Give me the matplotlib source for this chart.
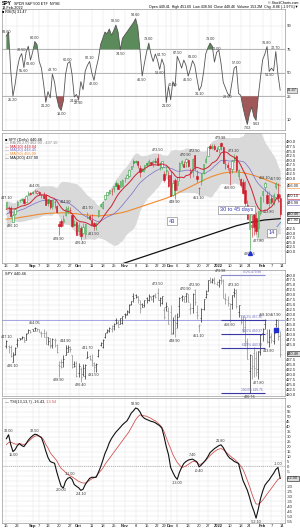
import numpy as np
import pandas as pd
import matplotlib
matplotlib.use('Agg')
import matplotlib.pyplot as plt

FIRST_DAY = '2021-08-16'
LAST_DAY = '2022-02-14'  # the axis runs one session past the last bar
HOLIDAYS = ['2021-09-06', '2021-11-25', '2021-12-24', '2022-01-17']

# Daily SPY prices, 16-Aug-2021 .. 11-Feb-2022
opens = [444.5, 444.2, 443.9, 436.3, 440.2, 445.2, 448.2, 448.2, 448.6, 447.1,
         450.9, 452.1, 452.6, 453.3, 451.9, 452.7, 450.9, 450.7, 451.0, 448.6,
         448.1, 444.6, 447.3, 444.9, 434.9, 436.5, 436.1, 439.9, 441.4, 442.8,
         439.7, 435.2, 436.0, 430.9, 433.0, 430.2, 429.3, 438.4, 439.5, 437.2,
         435.7, 434.7, 439.1, 444.8, 444.0, 448.9, 451.1, 451.8, 453.1, 454.3,
         457.2, 456.5, 455.5, 455.9, 460.3, 460.2, 461.3, 465.4, 469.3, 469.7,
         469.3, 465.6, 465.2, 465.1, 468.6, 467.2, 469.0, 469.2, 469.6, 470.9,
         467.2, 466.1, 462.3, 464.1, 462.0, 461.6, 450.7, 459.2, 456.1, 464.4,
         468.7, 468.1, 469.2, 470.2, 463.1, 463.4, 472.6, 461.5, 454.5, 458.6,
         462.8, 468.8, 472.1, 477.7, 476.4, 477.9, 475.6, 476.3, 479.2, 477.2,
         467.9, 467.3, 462.7, 465.2, 471.6, 472.2, 461.2, 459.7, 458.1, 453.8,
         445.6, 432.0, 433.1, 440.7, 438.3, 432.7, 441.2, 450.7, 455.5, 450.95,
         446.3, 449.5, 446.7, 455.2, 451.3, 449.4]
highs = [447.1, 444.9, 444.6, 441.1, 443.7, 448.2, 448.5, 449.5, 448.9, 450.7,
         453.1, 452.5, 453.1, 454.05, 453.6, 452.8, 451.7, 452.6, 451.6, 448.9,
         448.3, 448.4, 448.4, 445.4, 436.6, 437.9, 440.0, 444.9, 444.7, 444.1,
         440.0, 437.0, 436.8, 436.0, 433.9, 435.5, 435.1, 441.7, 439.9, 440.3,
         436.1, 436.0, 442.7, 446.3, 447.6, 450.7, 452.7, 453.8, 454.7, 455.9,
         458.5, 457.2, 458.4, 459.6, 460.7, 462.2, 465.2, 467.0, 470.7, 470.2,
         469.6, 467.4, 465.9, 467.4, 468.8, 470.5, 469.2, 470.0, 470.9, 473.5,
         469.1, 469.6, 463.9, 466.6, 464.0, 464.7, 459.1, 460.3, 460.8, 468.9,
         470.0, 469.6, 470.9, 470.6, 465.7, 470.9, 472.9, 464.7, 455.4, 463.2,
         467.8, 472.2, 477.3, 478.8, 478.6, 479.0, 477.0, 477.9, 479.98, 477.9,
         470.8, 469.2, 465.7, 469.9, 473.2, 472.9, 465.1, 460.0, 459.6, 458.7,
         448.1, 440.4, 439.7, 444.0, 441.6, 442.0, 450.3, 453.6, 458.1, 452.97,
         452.8, 451.0, 451.9, 457.9, 457.7, 451.6]
lows = [443.2, 440.9, 438.9, 436.1, 439.7, 443.7, 447.2, 447.8, 446.2, 447.1,
        450.7, 450.9, 451.6, 451.9, 451.6, 451.1, 449.0, 448.7, 445.3, 444.9,
        443.2, 443.4, 444.0, 441.0, 428.9, 433.1, 433.8, 439.6, 441.2, 441.2,
        433.3, 433.9, 428.8, 428.8, 426.4, 429.4, 427.5, 438.2, 437.2, 434.4,
        431.5, 431.5, 438.6, 444.1, 443.3, 448.3, 451.0, 451.3, 451.1, 452.4,
        455.6, 453.9, 455.5, 455.6, 458.2, 460.1, 460.8, 465.0, 466.4, 468.2,
        465.7, 460.7, 463.8, 463.7, 466.1, 467.1, 467.5, 466.2, 468.5, 467.4,
        464.5, 465.2, 457.8, 461.7, 455.3, 450.3, 450.3, 448.9, 453.6, 458.7,
        466.8, 466.2, 466.5, 466.3, 460.2, 460.7, 464.8, 458.1, 451.1, 456.3,
        462.6, 468.6, 472.0, 476.1, 475.9, 475.7, 474.8, 473.9, 475.6, 468.3,
        465.4, 464.6, 456.6, 462.9, 468.9, 463.4, 459.0, 455.3, 451.3, 444.5,
        437.95, 420.76, 427.7, 428.9, 429.4, 427.8, 439.8, 446.9, 453.0, 445.7,
        443.8, 445.9, 445.2, 454.0, 447.2, 438.9]
closes = [446.97, 444.04, 439.18, 439.86, 443.36, 447.26, 447.97, 448.91, 446.26, 450.25,
          452.23, 451.56, 451.80, 453.19, 453.08, 451.46, 450.91, 448.98, 445.44, 446.58,
          444.17, 447.88, 447.17, 441.40, 434.04, 433.63, 437.86, 443.18, 443.91, 442.64,
          433.72, 434.45, 429.14, 434.24, 428.64, 433.10, 434.90, 438.66, 437.86, 434.69,
          433.62, 435.18, 442.50, 445.87, 447.19, 450.64, 452.41, 453.59, 453.12, 455.55,
          455.96, 453.94, 458.32, 459.25, 460.04, 461.90, 464.72, 466.91, 468.53, 468.93,
          467.38, 463.62, 463.77, 467.27, 467.43, 469.28, 468.14, 469.73, 468.89, 467.57,
          468.19, 469.44, 458.97, 464.60, 455.56, 450.50, 457.40, 453.42, 458.79, 468.28,
          469.52, 466.35, 470.74, 466.57, 463.36, 470.60, 466.45, 459.87, 454.98, 463.06,
          467.69, 470.60, 477.26, 476.87, 477.48, 476.16, 474.96, 477.71, 477.55, 468.38,
          467.94, 466.09, 465.51, 469.75, 471.02, 464.53, 464.72, 456.49, 451.75, 446.75,
          437.98, 439.84, 434.47, 433.38, 431.24, 441.95, 449.91, 452.95, 457.35, 446.60,
          448.70, 447.26, 450.94, 457.54, 449.32, 440.46]
# closes of the 20 sessions before the window, for the short averages and bands
warmup_closes = [424.97, 431.06, 434.55, 435.46, 439.94, 441.02, 439.01, 438.83, 440.65, 438.51,
                 437.59, 441.15, 438.98, 441.76, 442.49, 442.13, 442.68, 443.78, 445.11, 445.92]

ma50 = [437.6, 437.8, 437.9, 438.0, 438.1, 438.3, 438.5, 438.7, 438.9, 439.1,
        439.3, 439.5, 439.7, 439.9, 440.1, 440.3, 440.4, 440.6, 440.7, 440.8,
        440.9, 440.9, 441.0, 441.0, 441.0, 441.1, 441.1, 441.1, 441.0, 440.9,
        440.8, 440.7, 440.6, 440.4, 440.3, 440.1, 440.0, 439.9, 439.8, 439.7,
        439.6, 439.5, 439.5, 439.5, 439.6, 439.7, 439.8, 440.0, 440.2, 440.4,
        440.6, 440.8, 441.0, 441.3, 441.6, 441.9, 442.3, 442.7, 443.1, 443.5,
        443.9, 444.3, 444.7, 445.1, 445.5, 445.9, 446.3, 446.7, 447.1, 447.5,
        447.9, 448.3, 448.7, 449.1, 449.6, 450.1, 450.6, 451.2, 451.8, 452.4,
        453.0, 453.6, 454.2, 454.8, 455.4, 456.0, 456.6, 457.2, 457.8, 458.4,
        459.0, 459.6, 460.1, 460.6, 461.1, 461.5, 461.9, 462.3, 462.6, 462.9,
        463.1, 463.3, 463.4, 463.5, 463.5, 463.5, 463.4, 463.3, 463.1, 462.9,
        462.6, 462.3, 462.0, 461.6, 461.2, 460.8, 460.4, 460.0, 459.5, 459.0,
        458.5, 458.0, 457.5, 457.0, 456.5, 456.0]
ma200 = [392.0, 392.4, 392.8, 393.2, 393.6, 394.0, 394.4, 394.8, 395.2, 395.6,
         396.0, 396.4, 396.8, 397.2, 397.6, 398.0, 398.4, 398.8, 399.2, 399.6,
         400.0, 400.4, 400.8, 401.2, 401.6, 402.0, 402.4, 402.8, 403.2, 403.6,
         404.0, 404.4, 404.8, 405.2, 405.6, 406.0, 406.4, 406.8, 407.2, 407.6,
         408.0, 408.4, 408.8, 409.2, 409.6, 410.0, 410.4, 410.8, 411.2, 411.6,
         412.0, 412.4, 412.8, 413.2, 413.6, 414.0, 414.4, 414.8, 415.2, 415.6,
         416.0, 416.4, 416.8, 417.2, 417.6, 418.0, 418.4, 418.8, 419.2, 419.6,
         420.0, 420.4, 420.8, 421.2, 421.6, 422.0, 422.4, 422.8, 423.2, 423.6,
         424.0, 424.4, 424.8, 425.2, 425.6, 426.0, 426.4, 426.8, 427.2, 427.6,
         428.0, 428.4, 428.8, 429.2, 429.6, 430.0, 430.4, 430.8, 431.2, 431.6,
         432.0, 432.4, 432.8, 433.2, 433.6, 434.0, 434.3, 434.6, 434.9, 435.2,
         435.5, 435.8, 436.0, 436.2, 436.4, 436.6, 436.8, 437.0, 437.2, 437.3,
         437.4, 437.5, 437.6, 437.7, 437.8, 437.9]

# Top oscillator
osc = [83.6, 86.0, 52.0, 25.2, 38.0, 55.0, 66.0, 70.5, 55.6, 72.0,
       77.0, 63.6, 72.0, 80.0, 78.0, 62.0, 55.0, 38.0, 21.2, 30.0,
       24.0, 48.7, 40.0, 24.0, 18.0, 16.0, 22.0, 48.0, 60.0, 62.0,
       48.0, 24.6, 27.0, 22.9, 40.7, 32.0, 52.0, 58.0, 62.1, 50.0,
       42.0, 55.0, 65.0, 78.0, 82.0, 86.0, 85.0, 88.0, 84.0, 87.0,
       90.5, 86.0, 74.5, 82.0, 84.0, 86.0, 88.0, 90.0, 92.0, 94.6,
       89.0, 74.0, 46.5, 60.0, 72.0, 79.0, 70.0, 62.0, 70.0, 63.5,
       53.6, 64.7, 58.0, 21.0, 35.5, 22.8, 40.6, 35.5, 67.5, 62.0,
       55.0, 63.6, 58.0, 46.5, 54.0, 63.0, 58.0, 44.0, 31.1, 36.0,
       50.0, 70.0, 76.0, 79.0, 77.0, 61.5, 72.0, 74.0, 60.0, 40.0,
       34.0, 28.0, 25.6, 40.0, 55.0, 57.0, 28.0, 26.0, 18.0, 12.0,
       7.02, 14.0, 18.2, 12.0, 9.63, 25.0, 45.0, 64.0, 70.0, 76.8,
       51.5, 55.0, 52.0, 72.7, 48.0, 31.47]

# TSI(13,13,7) and its signal line
tsi = [28.0, 32.0, 22.0, 15.0, 17.0, 21.0, 23.0, 21.0, 20.0, 23.0,
       26.5, 29.0, 31.0, 32.5, 32.0, 30.5, 29.0, 23.0, 15.5, 9.0,
       5.0, 4.0, 3.2, -5.5, -13.0, -20.0, -21.7, -15.0, -12.0, -11.0,
       -13.0, -18.3, -20.0, -21.5, -24.1, -23.0, -18.3, -15.0, -12.0, -10.9,
       -11.0, -10.9, -6.0, -0.6, 6.0, 13.0, 18.0, 24.0, 28.2, 31.5,
       34.6, 37.0, 39.4, 42.0, 44.0, 45.8, 49.5, 53.8, 56.0, 58.9,
       58.0, 55.0, 50.6, 48.5, 47.4, 46.5, 45.5, 45.0, 44.0, 42.5,
       41.0, 38.5, 30.0, 20.0, 12.0, -1.0, -6.0, -10.3, -13.0, -6.0,
       -1.0, 3.0, 5.0, 6.4, 7.0, 7.4, 6.0, 4.6, -0.4, 1.5,
       4.0, 6.5, 10.0, 14.0, 16.0, 18.0, 19.5, 21.0, 21.8, 19.0,
       15.0, 11.0, 8.3, 7.0, 5.1, 4.0, 3.0, -6.0, -14.0, -19.0,
       -24.0, -31.0, -39.0, -45.0, -52.1, -43.0, -32.7, -25.0, -19.0, -16.0,
       -13.5, -10.0, -7.0, -3.0, -1.0, -12.0]
tsi_signal = [22.0, 24.0, 24.5, 23.5, 22.5, 22.5, 23.0, 22.5, 22.0, 23.0,
              25.0, 27.0, 29.0, 30.5, 31.0, 30.5, 29.5, 27.0, 22.0, 18.6,
              14.0, 11.0, 8.5, 5.8, 1.5, -2.0, -3.8, -6.0, -8.0, -9.5,
              -10.5, -12.0, -13.5, -15.0, -16.0, -16.7, -16.7, -15.5, -14.0, -12.5,
              -11.5, -10.0, -7.0, -4.5, -2.0, 2.0, 5.0, 8.0, 11.0, 14.0,
              17.0, 20.0, 23.0, 26.0, 29.0, 32.0, 35.0, 39.0, 43.0, 47.0,
              50.0, 51.9, 51.5, 51.0, 50.6, 49.5, 48.5, 47.0, 46.0, 44.0,
              42.0, 39.5, 35.0, 29.0, 23.0, 18.0, 12.0, 8.0, 4.0, 1.5,
              -1.0, -0.5, 0.5, 2.0, 3.5, 5.0, 5.0, 4.0, 2.0, 2.5,
              4.0, 6.0, 8.5, 11.0, 13.0, 15.0, 16.5, 17.5, 18.0, 17.0,
              15.0, 13.0, 11.0, 9.0, 7.5, 5.5, 3.0, 0.5, -3.0, -8.0,
              -14.0, -20.0, -27.0, -33.0, -37.8, -38.0, -36.5, -34.0, -31.0, -28.0,
              -25.0, -22.0, -19.0, -16.0, -13.0, -12.0]

tick_dates = ['2021-08-16', '2021-08-23', '2021-09-01', '2021-09-07', '2021-09-13', '2021-09-20',
              '2021-09-27', '2021-10-01', '2021-10-11', '2021-10-18', '2021-10-25', '2021-11-01',
              '2021-11-08', '2021-11-15', '2021-11-22', '2021-11-29', '2021-12-01', '2021-12-06',
              '2021-12-13', '2021-12-20', '2021-12-27', '2022-01-03', '2022-01-10', '2022-01-18',
              '2022-01-24', '2022-02-01', '2022-02-07', '2022-02-14']
tick_texts = ['16', '23', 'Sep', '7', '13', '20', '27', 'Oct', '11', '18', '25', 'Nov', '8', '15',
              '22', '29', 'Dec', '6', '13', '20', '27', '2022', '10', '18', '24', 'Feb', '7', '14']

# Fibonacci retracement drawn from the January high to the January low
fib_ratios = [0.0, 0.382, 0.5, 0.618, 1.0]
fib_start_date = '2022-01-04'
fib_end_date = '2022-02-02'

# swing points that carry a value label
osc_peaks = [0, 7, 13, 21, 28, 38, 50, 59, 65, 71, 78, 85, 93, 96, 105, 119, 123]
osc_troughs = [3, 8, 11, 18, 25, 31, 33, 40, 52, 62, 70, 73, 76, 83, 88, 101, 110, 114, 120]
price_peaks = [0, 13, 27, 37, 69, 82, 86, 98, 104, 118, 123]
price_troughs = [3, 24, 34, 40, 77, 88, 102, 111, 115, 120]
tsi_peaks = [1, 13, 29, 59, 85, 98, 124]
tsi_troughs = [3, 25, 34, 78, 88, 114]

UP_COLOR = '#2f9e3a'
DOWN_COLOR = '#d01c2a'
GRID_COLOR = '#e4e4e4'
LABEL_SIZE = 2.7
plt.rcParams['font.family'] = ['Liberation Sans', 'DejaVu Sans']


def px_axes(fig, left, top, right, bottom):
    # axes placed by pixel edges of the 300x531 canvas
    W, H = 300.0, 531.0
    return fig.add_axes([left / W, 1 - bottom / H, (right - left) / W, (bottom - top) / H])


def style_axis(ax, ticks, show_dates):
    ax.set_xlim(-2.0, 127.2)
    ax.set_xticks(ticks)
    if show_dates:
        ax.set_xticklabels(tick_texts)
        for lab in ax.get_xticklabels():
            text = lab.get_text()
            if not text.isdigit() or text == '2022':
                lab.set_fontweight('bold')
            # "29" and "Dec" sit two sessions apart: "29" leans left so they read "29Dec"
            if text == '29':
                lab.set_horizontalalignment('right')
    else:
        ax.set_xticklabels([])
    ax.yaxis.tick_right()
    ax.tick_params(axis='both', labelsize=3, length=0, pad=1, colors='#222222')
    ax.grid(True, color=GRID_COLOR, lw=0.35)
    ax.set_axisbelow(True)
    for sp in ax.spines.values():
        sp.set_color('#9a9a9a')
        sp.set_linewidth(0.5)


def set_value_ticks(ax, values, fmt, boxes, tol):
    # right-hand value ticks; those hidden behind a boxed last value stay blank
    ax.set_yticks(values)
    ax.set_yticklabels(['' if any(abs(v - b) < tol for b in boxes) else fmt.format(v) for v in values])


def label_points(ax, x, values, idx_list, above, offset=1.2, color='#333333'):
    for i in idx_list:
        ax.annotate(f'{values[i]:.2f}', (x[i], values[i]), xytext=(0, offset if above else -offset),
                    textcoords='offset points', ha='center', va='bottom' if above else 'top',
                    fontsize=LABEL_SIZE, color=color)


def right_boxes(ax, items, gap):
    # boxed last values on the right axis, pushed apart so that they do not overlap
    items = sorted(items, key=lambda it: it[0], reverse=True)
    placed = []
    for value, edge, face in items:
        pos = value if not placed else min(value, placed[-1] - gap)
        placed.append(pos)
        ax.annotate(f'{value:.2f}', xy=(1.0, pos), xycoords=('axes fraction', 'data'), xytext=(1.5, 0),
                    textcoords='offset points', ha='left', va='center', fontsize=2.8, color='#222222',
                    bbox=dict(boxstyle='square,pad=0.12', fc=face, ec=edge, lw=0.4), annotation_clip=False)
    return placed


def osc_scale():
    levels = [-50, 0, 10, 25, 50, 75, 90, 100, 150]
    slots = [-4.0, -0.667, 0, 1, 2, 3, 4, 4.667, 8.0]
    return (lambda v: np.interp(v, levels, slots)), (lambda p: np.interp(p, slots, levels))


def draw_oscillator(ax, x, ticks):
    values = np.array(osc)
    ax.set_yscale('function', functions=osc_scale())
    ax.set_ylim(3.5, 100.8)
    style_axis(ax, ticks, False)
    for lvl in (75, 50, 25):
        ax.axhline(lvl, color='#9a9a9a', lw=0.5, zorder=1)
    ax.fill_between(x, 75, values, where=values > 75, interpolate=True, color='#5b8a5b', lw=0, zorder=2)
    ax.fill_between(x, 25, values, where=values < 25, interpolate=True, color='#a05858', lw=0, zorder=2)
    ax.plot(x, values, color='#555555', lw=0.6, zorder=3)
    label_points(ax, x, values, osc_peaks, True)
    label_points(ax, x, values, osc_troughs, False)
    boxes = right_boxes(ax, [(values[-1], '#555555', '#dddddd')], 0)
    set_value_ticks(ax, [10, 25, 50, 75, 90], '{:.0f}', boxes, 3)


def draw_candles(ax, x, o, h, l, c):
    prev = np.r_[c[0], c[:-1]]
    colors = np.where(c >= prev, UP_COLOR, DOWN_COLOR)
    faces = np.where(c >= o, 'white', colors)
    ax.vlines(x, l, h, colors=colors, lw=0.4, zorder=3)
    ax.bar(x, np.maximum(np.abs(c - o), 0.08), bottom=np.minimum(o, c), width=0.62,
           color=faces, edgecolor=colors, linewidth=0.4, zorder=4)


def draw_price(ax, x, ticks):
    o, h, l, c = map(np.array, (opens, highs, lows, closes))
    full = pd.Series(warmup_closes + closes)
    ma10 = full.rolling(10).mean().values[-len(c):]
    mid = full.rolling(20).mean().values[-len(c):]
    dev = full.rolling(20).std(ddof=0).values[-len(c):]
    upper, lower = mid + 2 * dev, mid - 2 * dev

    ax.set_ylim(413.6, 484.9)
    style_axis(ax, ticks, True)
    ax.fill_between(x, lower, upper, color='#d9d9d9', lw=0, zorder=1)
    ax.plot(x, ma200, color='#111111', lw=0.9, zorder=2)
    ax.plot(x, ma50, color='#ef8a2e', lw=0.8, zorder=2)
    ax.plot(x, mid, color='#7a6cc8', lw=0.5, zorder=2)
    ax.plot(x, ma10, color='#cc2233', lw=0.7, zorder=5)
    draw_candles(ax, x, o, h, l, c)
    label_points(ax, x, h, price_peaks, True)
    label_points(ax, x, l, price_troughs, False)

    # blue marker under the January low
    lo = int(np.argmin(l))
    ax.plot(x[lo], l[lo] - 1.8, marker='^', ms=2.8, color='#1f2fd0', zorder=6)

    legend = [('\u25a0 SPY (Daily) 440.46', '#111111'), ('\u2014 BB(20,2.0) 462.90 - 437.10', '#888888'),
              ('\u2014 MA(10) 449.04', '#cc2233'), ('\u2014 MA(20) 448.45', '#7a6cc8'),
              ('\u2014 MA(50) 456.00', '#ef8a2e'), ('\u2014 MA(200) 437.90', '#111111')]
    for k, (txt, col) in enumerate(legend):
        ax.text(0.012, 0.965 - k * 0.028, txt, transform=ax.transAxes, fontsize=2.8, color=col, va='top')

    box = dict(boxstyle='square,pad=0.3', fc='white', ec='#777777', lw=0.4)
    ax.text(0.829, 0.41, '30 to 45 days', transform=ax.transAxes, fontsize=4, color='#3a3ab0',
            ha='center', va='center', bbox=box, zorder=8)
    ax.text(0.60, 0.323, '43', transform=ax.transAxes, fontsize=4, color='#3a3ab0',
            ha='center', va='center', bbox=box, zorder=8)
    ax.text(0.952, 0.231, '14', transform=ax.transAxes, fontsize=4, color='#3a3ab0',
            ha='center', va='center', bbox=box, zorder=8)
    ax.annotate('', xy=(0.992, 0.331), xytext=(0.965, 0.262), xycoords='axes fraction',
                arrowprops=dict(arrowstyle='-', color='#5577cc', lw=0.5), zorder=8)

    boxes = right_boxes(ax, [(ma50[-1], '#ef8a2e', 'white'), (ma10[-1], '#cc2233', 'white'),
                             (mid[-1], '#7a6cc8', 'white'), (c[-1], '#111111', '#dddddd'),
                             (ma200[-1], '#111111', 'white')], 3.4)
    set_value_ticks(ax, np.arange(420, 482.5, 2.5), '{:.1f}', boxes, 2.6)


def draw_bars(ax, x, ticks, days):
    o, h, l, c = map(np.array, (opens, highs, lows, closes))
    prev = np.r_[c[0], c[:-1]]
    cols = np.where(c >= prev, '#2a2a2a', '#8c8c8c')
    ax.set_ylim(419.2, 482.5)
    style_axis(ax, ticks, False)
    ax.vlines(x, l, h, colors=cols, lw=0.5, zorder=3)
    ax.hlines(o, x - 0.45, x, colors=cols, lw=0.5, zorder=3)
    ax.hlines(c, x, x + 0.45, colors=cols, lw=0.5, zorder=3)
    label_points(ax, x, h, price_peaks, True)
    label_points(ax, x, l, price_troughs, False)

    # fibonacci levels between the January high and the January low
    top, bottom = h.max(), l.min()
    x0 = days.get_loc(pd.Timestamp(fib_start_date))
    x1 = days.get_loc(pd.Timestamp(fib_end_date))
    for r in fib_ratios:
        lvl = top - r * (top - bottom)
        col = '#8c8cd0' if r == 0.0 else '#3838a8'
        ax.hlines(lvl, x0, x1, colors=col, lw=0.8, zorder=4)
        ax.text((x0 + x1) / 2 + 4, lvl + 0.4, f'{r * 100:.1f}% {lvl:.2f}', fontsize=2.3,
                color='#6666bb', ha='center', va='bottom', zorder=5)
        if r == 0.382:
            ax.axhline(lvl, color='#3838c8', lw=0.6, ls=(0, (1.2, 1.2)), zorder=2)

    ax.plot(x[123], l[123] - 1.6, marker='s', ms=2.4, color='#1f2fd0', zorder=6)
    ax.text(0.012, 0.985, 'SPY 440.46', transform=ax.transAxes, fontsize=2.8, color='#111111', va='top')
    boxes = right_boxes(ax, [(c[-1], '#111111', '#dddddd')], 0)
    set_value_ticks(ax, np.arange(420, 482.5, 2.5), '{:.1f}', boxes, 2.4)


def draw_tsi(ax, x, ticks):
    t, s = np.array(tsi), np.array(tsi_signal)
    ax.set_ylim(-57, 69)
    style_axis(ax, ticks, True)
    ax.axhline(0, color='#9a9a9a', lw=0.5, ls=(0, (1.5, 1.5)), zorder=1)
    ax.plot(x, s, color='#d05555', lw=0.6, zorder=2)
    ax.plot(x, t, color='#111111', lw=0.8, zorder=3)
    label_points(ax, x, t, tsi_peaks, True)
    label_points(ax, x, t, tsi_troughs, False)
    ax.text(0.012, 0.985, '\u2014 TSI(13,13,7) -16.43,', transform=ax.transAxes, fontsize=2.8,
            color='#111111', va='top')
    ax.text(0.155, 0.985, '-13.94', transform=ax.transAxes, fontsize=2.8, color='#d05555', va='top')
    boxes = right_boxes(ax, [(t[-1], '#111111', '#dddddd')], 0)
    set_value_ticks(ax, np.arange(-55, 65, 5), '{:.0f}', boxes, 4.5)


if __name__ == '__main__':
    days = pd.bdate_range(FIRST_DAY, LAST_DAY).drop(pd.to_datetime(HOLIDAYS))
    x = np.arange(len(closes))
    ticks = days.get_indexer(pd.to_datetime(tick_dates))

    fig = plt.figure(figsize=(3.0, 5.3105), dpi=100)
    fig.patch.set_facecolor('white')

    ax_osc = px_axes(fig, 2, 9, 285, 130)
    ax_price = px_axes(fig, 2, 133, 285, 263)
    ax_bars = px_axes(fig, 2, 270, 285, 396)
    ax_tsi = px_axes(fig, 2, 398, 285, 523)

    draw_oscillator(ax_osc, x, ticks)
    draw_price(ax_price, x, ticks)
    draw_bars(ax_bars, x, ticks, days)
    draw_tsi(ax_tsi, x, ticks)

    # header
    fig.text(2 / 300, 1 - 1 / 531, 'SPY', fontsize=3.6, fontweight='bold', va='top')
    fig.text(14 / 300, 1 - 1.6 / 531, 'SPDR S&P 500 ETF  NYSE', fontsize=2.7, va='top')
    fig.text(2 / 300, 1 - 5.5 / 531, '13-Feb-2022', fontsize=2.7, va='top')
    fig.text(2 / 300, 1 - 9.6 / 531, '\u25a0 RSI(5) 31.47', fontsize=2.7, va='top')
    fig.text(298 / 300, 1 - 0.5 / 531, '\u00a9 StockCharts.com', fontsize=2.5, va='top', ha='right')
    fig.text(298 / 300, 1 - 4.8 / 531,
             'Open 449.41  High 451.60  Low 438.94  Close 440.46  Volume 153.2M  Chg -8.86 (-1.97%)\u25bc',
             fontsize=2.6, va='top', ha='right')

    fig.savefig('out.png', dpi=100, facecolor='white')
